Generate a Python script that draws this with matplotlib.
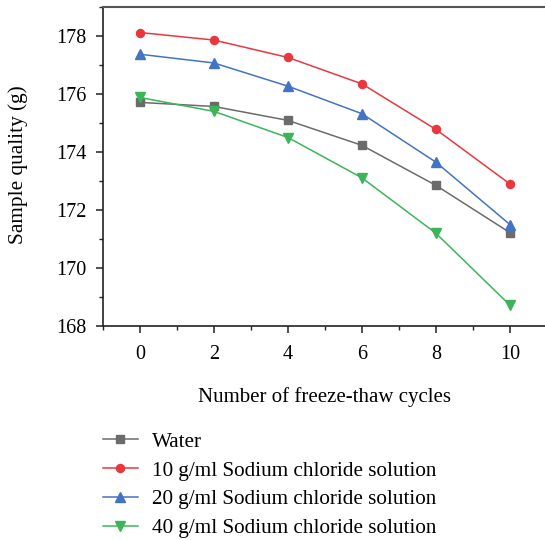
import matplotlib
matplotlib.use("Agg")
import matplotlib.pyplot as plt
from matplotlib.ticker import MultipleLocator

plt.rcParams['font.family'] = ['Liberation Serif', 'DejaVu Serif']

cycles = [0, 2, 4, 6, 8, 10]
water = [175.71, 175.57, 175.09, 174.23, 172.85, 171.22]
nacl10 = [178.12, 177.86, 177.26, 176.35, 174.78, 172.90]
nacl20 = [177.37, 177.07, 176.27, 175.32, 173.65, 171.50]
nacl40 = [175.88, 175.40, 174.50, 173.11, 171.20, 168.72]
labels = ["Water", "10 g/ml Sodium chloride solution",
          "20 g/ml Sodium chloride solution", "40 g/ml Sodium chloride solution"]

fig = plt.figure(figsize=(5.45, 5.40), dpi=100)
W, H = 545, 540
ax = fig.add_axes([103 / W, 1 - 326 / H, (545 - 103) / W, (326 - 7) / H])

styles = [
    (water, '#6b6b6b', 's', 5.3),
    (nacl10, '#e8383d', 'o', 5.8),
    (nacl20, '#4472c4', '^', 6.8),
    (nacl40, '#3cb55a', 'v', 6.8),
]
handles = []
for (vals, col, mk, ms), lab in zip(styles, labels):
    h, = ax.plot(cycles, vals, color=col, marker=mk, markersize=ms, lw=1.1, label=lab)
    handles.append(h)

ax.set_xlim(-1, 10.95)
ax.set_ylim(168, 179)
ax.xaxis.set_major_locator(MultipleLocator(2))
ax.xaxis.set_minor_locator(MultipleLocator(1))
ax.yaxis.set_major_locator(MultipleLocator(2))
ax.yaxis.set_minor_locator(MultipleLocator(1))
ax.spines['right'].set_visible(False)
for s in ['left', 'bottom']:
    ax.spines[s].set_color('#222222')
    ax.spines[s].set_linewidth(1.2)
ax.spines['top'].set_color('#555555')
ax.spines['top'].set_linewidth(1.5)
ax.tick_params(axis='both', which='major', direction='out', length=5, width=1.1,
               labelsize=14.5, color='#222222')
ax.tick_params(axis='y', which='major', pad=7)
ax.tick_params(axis='x', which='major', pad=9)
ax.tick_params(axis='both', which='minor', direction='out', length=3, width=1.0, color='#222222')

fig.text(18 / W, 1 - 165 / H, "Sample quality (g)", rotation=90, fontsize=15.3,
         ha='center', va='center')
fig.text(325 / W, 1 - 397 / H, "Number of freeze-thaw cycles", fontsize=15,
         ha='center', va='center')

fig.legend(handles=handles, labels=labels, loc='upper left',
           bbox_to_anchor=(103 / W, 1 - 432 / H), frameon=False, fontsize=15.2,
           handlelength=1.65, handletextpad=0.66, labelspacing=0.43, borderaxespad=0,
           borderpad=0)

fig.savefig("out.png", dpi=100)
